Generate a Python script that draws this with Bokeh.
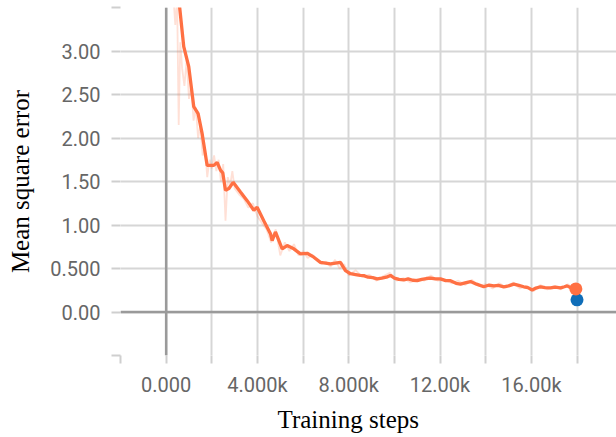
from bokeh.plotting import figure
from bokeh.models import FixedTicker, Span, Title, Range1d
from bokeh.embed import file_html
from bokeh.resources import INLINE

# ---- data ----
smooth_x = [100, 350, 592, 771, 990, 1210, 1400, 1577, 1796, 2088, 2234, 2380, 2480, 2598,
            2750, 2935, 3255, 3548, 3840, 3986, 4276, 4570, 4644, 4788, 5082, 5300, 5592,
            5884, 6177, 6469, 6760, 7198, 7636, 7855, 8074, 8300, 8500, 8658, 8850, 9050,
            9244, 9450, 9650, 9827, 10000, 10200, 10410, 10600, 10800, 10997, 11200, 11400,
            11580, 11800, 12018, 12250, 12457, 12700, 12896, 13100, 13334, 13600, 13915,
            14150, 14353, 14550, 14791, 15000, 15230, 15450, 15667, 15850, 16036, 16200,
            16400, 16600, 16838, 17050, 17275, 17450, 17568, 17750, 17950]
smooth_y = [5.2, 4.2, 3.5, 3.05, 2.82, 2.36, 2.28, 2.05, 1.685, 1.685, 1.72, 1.63, 1.60, 1.40,
            1.42, 1.49, 1.38, 1.28, 1.17, 1.205, 1.05, 0.90, 0.82, 0.92, 0.726, 0.764, 0.726,
            0.668, 0.675, 0.63, 0.57, 0.553, 0.57, 0.475, 0.44, 0.43, 0.42, 0.418, 0.40, 0.395,
            0.38, 0.39, 0.40, 0.42, 0.39, 0.375, 0.368, 0.38, 0.365, 0.36, 0.375, 0.385,
            0.39, 0.38, 0.38, 0.36, 0.36, 0.33, 0.32, 0.335, 0.35, 0.32, 0.29,
            0.31, 0.30, 0.305, 0.29, 0.30, 0.32, 0.305, 0.29, 0.28, 0.253, 0.275,
            0.29, 0.28, 0.277, 0.285, 0.277, 0.29, 0.30, 0.275, 0.265]

raw_x = [100, 250, 400, 480, 550, 620, 700, 800, 900, 1000, 1100, 1200, 1300, 1400, 1500,
         1600, 1700, 1800, 1900, 2000, 2100, 2200, 2300, 2400, 2500, 2600, 2700, 2800, 2900,
         3000, 3200, 3400, 3600, 3800, 4000, 4200, 4400, 4600, 4800, 5000, 5200, 5400, 5600,
         5800, 6000, 6200, 6400, 6600, 6800, 7000, 7200, 7400, 7600, 7800, 8000, 8300, 8600,
         8900, 9200, 9500, 9800, 10100, 10400, 10700, 11000, 11300, 11600, 11900, 12200,
         12500, 12800, 13100, 13400, 13700, 14000, 14300, 14600, 14900, 15200, 15500, 15800,
         16100, 16400, 16700, 17000, 17300, 17600, 17950]
raw_y = [5.0, 3.9, 3.3, 3.6, 2.15, 3.1, 2.8, 2.6, 2.9, 2.45, 2.6, 2.2, 2.35, 2.0, 2.15,
         1.8, 1.9, 1.55, 1.75, 1.65, 1.8, 1.62, 1.75, 1.5, 1.7, 1.05, 1.55, 1.45, 1.62,
         1.42, 1.35, 1.3, 1.2, 1.25, 1.1, 1.02, 0.95, 0.8, 0.95, 0.65, 0.8, 0.7, 0.78,
         0.65, 0.7, 0.62, 0.66, 0.6, 0.55, 0.58, 0.52, 0.6, 0.5, 0.55, 0.42, 0.48, 0.4,
         0.43, 0.36, 0.41, 0.45, 0.36, 0.39, 0.34, 0.38, 0.36, 0.42, 0.36, 0.37,
         0.33, 0.36, 0.31, 0.37, 0.3, 0.32, 0.27, 0.33, 0.28, 0.34, 0.27, 0.3,
         0.24, 0.31, 0.26, 0.3, 0.26, 0.32, 0.25]

last_train_x = [17950]
last_train_y = [0.265]
eval_x = [18000]
eval_y = [0.14]

x_ticks = [-2000, 0, 2000, 4000, 6000, 8000, 10000, 12000, 14000, 16000, 18000]
x_tick_labels = ["", "0.000", "", "4.000k", "", "8.000k", "", "12.00k", "", "16.00k", ""]
y_ticks = [-0.5, 0.0, 0.5, 1.0, 1.5, 2.0, 2.5, 3.0, 3.5]
y_tick_labels = ["", "0.00", "0.500", "1.00", "1.50", "2.00", "2.50", "3.00", ""]

x_label = "Training steps"
y_label = "Mean square error"

ORANGE = "#ff7043"
BLUE = "#0f6db8"
GRID = "#d6d6d6"

p = figure(width=616, height=437, output_backend="svg", toolbar_location=None,
           x_range=Range1d(-2000, 19730), y_range=Range1d(-0.5, 3.5),
           min_border_left=120, min_border_right=0, min_border_top=7, min_border_bottom=82)
p.outline_line_color = None
p.background_fill_color = "white"

for ax, ticks, labels, tout in ((p.xaxis[0], x_ticks, x_tick_labels, 8),
                                (p.yaxis[0], y_ticks, y_tick_labels, 9)):
    ax.ticker = FixedTicker(ticks=ticks)
    ax.major_label_overrides = {t: l for t, l in zip(ticks, labels)}
    ax.axis_line_color = None
    ax.major_tick_line_color = "#cfcfcf"
    ax.major_tick_line_width = 2
    ax.major_tick_in = 0
    ax.major_tick_out = tout
    ax.minor_tick_line_color = None
    ax.major_label_text_font = "Roboto"
    ax.major_label_text_font_size = "20px"
    ax.major_label_text_color = "#666666"

p.xaxis.major_label_standoff = 9
p.yaxis.major_label_standoff = 11

p.yaxis.axis_label = y_label
p.yaxis.axis_label_text_font = "Liberation Serif"
p.yaxis.axis_label_text_font_size = "25px"
p.yaxis.axis_label_text_font_style = "normal"
p.yaxis.axis_label_text_color = "black"
p.yaxis.axis_label_standoff = 13

p.add_layout(Title(text=x_label, align="left", offset=157, text_font="Liberation Serif",
                   text_font_size="25px", text_font_style="normal", text_color="black",
                   standoff=8), "below")

p.xgrid.ticker = FixedTicker(ticks=x_ticks)
p.ygrid.ticker = FixedTicker(ticks=y_ticks)
for g in (p.xgrid[0], p.ygrid[0]):
    g.grid_line_color = GRID
    g.grid_line_width = 2

p.add_layout(Span(location=0, dimension="height", line_color="#9a9a9a", line_width=2.5))
p.add_layout(Span(location=0, dimension="width", line_color="#9a9a9a", line_width=2.5))

p.line(raw_x, raw_y, line_color=ORANGE, line_alpha=0.22, line_width=1.8)
p.line(smooth_x, smooth_y, line_color=ORANGE, line_width=3.3)
p.scatter(eval_x, eval_y, size=13, fill_color=BLUE, line_color=None)
p.scatter(last_train_x, last_train_y, size=13, fill_color=ORANGE, line_color=None)

open("out.html", "w").write(file_html(p, INLINE))
